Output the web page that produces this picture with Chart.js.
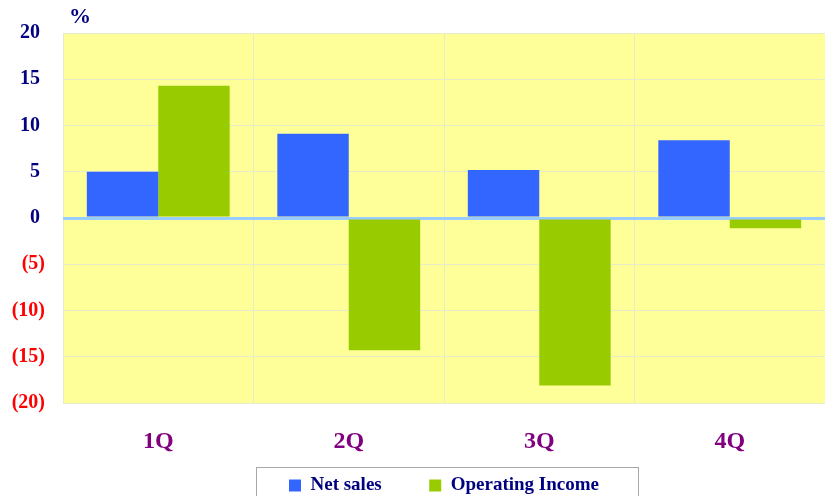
<!DOCTYPE html>
<html>
<head>
<meta charset="utf-8">
<script src="https://cdn.jsdelivr.net/npm/chart.js@4/dist/chart.umd.min.js"></script>
<style>
  html, body { margin: 0; padding: 0; background: #fff; }
  #wrap { width: 825px; height: 496px; }
</style>
</head>
<body>
<div id="wrap"><canvas id="growthChart" width="825" height="496"></canvas></div>
<script>
const quarters = ['1Q', '2Q', '3Q', '4Q'];
const netSales = [5.0, 9.1, 5.2, 8.4];
const operatingIncome = [14.3, -14.3, -18.1, -1.1];
const yTicks = [-20, -15, -10, -5, 0, 5, 10, 15, 20];

const serif = '"Liberation Serif", "Times New Roman", serif';

const plotBg = {
    id: 'plotBg',
    beforeDraw(chart) {
        const { ctx, chartArea: a } = chart;
        ctx.save();
        ctx.fillStyle = '#ffff99';
        ctx.fillRect(a.left, a.top, a.right - a.left, a.bottom - a.top);
        ctx.restore();
    },
    afterDraw(chart) {
        const { ctx } = chart;
        ctx.save();
        // unit label
        ctx.fillStyle = '#000080';
        ctx.font = 'bold 22px ' + serif;
        ctx.textAlign = 'left';
        ctx.textBaseline = 'middle';
        ctx.fillText('%', 69, 17);
        // legend frame
        const boxes = chart.legend.legendHitBoxes;
        if (boxes && boxes.length) {
            const first = boxes[0], last = boxes[boxes.length - 1];
            const x0 = Math.round(first.left - 33), x1 = Math.round(last.left + last.width + 39);
            ctx.strokeStyle = '#a8a8a8';
            ctx.lineWidth = 1;
            ctx.strokeRect(x0 + 0.5, 467.5, x1 - x0, 40);
        }
        ctx.restore();
    }
};

new Chart(document.getElementById('growthChart').getContext('2d'), {
    type: 'bar',
    data: {
        labels: quarters,
        datasets: [{
            label: 'Net sales',
            data: netSales,
            backgroundColor: '#3366ff',
            borderWidth: 0
        }, {
            label: 'Operating Income',
            data: operatingIncome,
            backgroundColor: '#99cc00',
            borderWidth: 0
        }]
    },
    options: {
        responsive: false,
        animation: false,
        layout: { padding: { top: 33, right: 0, left: 12, bottom: -9 } },
        datasets: {
            bar: { categoryPercentage: 0.75, barPercentage: 1.0 }
        },
        plugins: {
            legend: {
                position: 'bottom',
                fullSize: false,
                labels: {
                    color: '#000080',
                    font: { family: serif, size: 19, weight: 'bold' },
                    boxWidth: 12,
                    boxHeight: 12,
                    padding: 0,
                    generateLabels(chart) {
                        const items = Chart.defaults.plugins.legend.labels.generateLabels(chart);
                        items.forEach((it, i) => {
                            if (i < items.length - 1) it.text = it.text + '          ';
                        });
                        return items;
                    }
                }
            },
            tooltip: { enabled: false }
        },
        scales: {
            x: {
                afterFit(axis) { axis.height = 73; },
                grid: { color: '#e6ecc8', lineWidth: 1, drawTicks: false },
                border: { display: false },
                ticks: {
                    color: '#800080',
                    font: { family: serif, size: 24, weight: 'bold' },
                    padding: 24
                }
            },
            y: {
                min: -20,
                max: 20,
                afterFit(axis) { axis.width = 51; },
                afterBuildTicks(axis) { axis.ticks = yTicks.map(v => ({ value: v })); },
                grid: {
                    color: c => c.tick && c.tick.value === 0 ? '#99ccff' : '#e6ecc8',
                    lineWidth: c => c.tick && c.tick.value === 0 ? 3 : 1,
                    drawTicks: false
                },
                border: { display: false },
                ticks: {
                    padding: 18,
                    color: c => c.tick && c.tick.value < 0 ? '#ff0000' : '#000080',
                    font: { family: serif, size: 20, weight: 'bold' },
                    callback: v => v < 0 ? '(' + (-v) + ')' : v + ' '
                }
            }
        }
    },
    plugins: [plotBg]
});
</script>
</body>
</html>
